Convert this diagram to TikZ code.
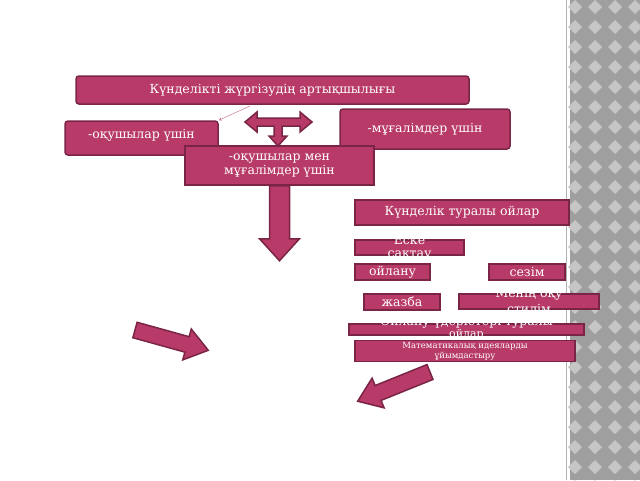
\documentclass[tikz,border=0pt]{standalone}
\usepackage{fontspec}
\setmainfont{DejaVu Serif}
\definecolor{berry}{HTML}{B83A68}
\definecolor{berryline}{HTML}{7A2545}
\tikzset{
  card/.style={draw=berryline, line width=1.5pt, fill=berry, text=white, inner sep=0pt, font=\fontsize{12.5}{14}\selectfont},
  cardtext/.style={text=white, inner sep=0pt, font=\fontsize{12.5}{14}\selectfont},
  blockarrow/.style={draw=berryline, line width=1.5pt, fill=berry, line join=miter}
}
\newcommand{\blockarrow}[3]{% length, shaft half width, head half width
  \draw[blockarrow] (0,-#2) -- ({#1-22},-#2) -- ({#1-22},-#3) -- (#1,0) -- ({#1-22},#3) -- ({#1-22},#2) -- (0,#2) -- cycle;}
\begin{document}
\begin{tikzpicture}[x=1pt,y=-1pt]
    \useasboundingbox (0,0) rectangle (640,480);
    \fill[white] (0,0) rectangle (640,480);
    % right border strip
    \fill[gray!75] (570,0) rectangle (640,480);
    \foreach \r in {0,...,24}{
      \foreach \c in {0,...,3}{
        \fill[gray!45] ({575+\c*20},{\r*20}) -- ++(7,7) -- ++(-7,7) -- ++(-7,-7) -- cycle;
      }
    }
    \draw[gray!60] (566,0) -- (566,480);
    % boxes
    \node[card, rounded corners=3pt, minimum width=393pt, minimum height=28pt] (title) at (272.5,90) {Күнделікті жүргізудің артықшылығы};
    \node[card, rounded corners=3pt, minimum width=170pt, minimum height=40pt] (teach) at (425,129) {-мұғалімдер үшін};
    \node[card, rounded corners=3pt, minimum width=153pt, minimum height=34pt, text depth=8pt] (pupil) at (141.5,138) {-оқушылар үшін};
    \node[card, minimum width=189pt, minimum height=39pt, align=center] (both) at (279.5,165.5) {-оқушылар мен\\мұғалімдер үшін};
    \node[card, minimum width=214pt, minimum height=25pt] (idea) at (462,212.5) {Күнделік туралы ойлар};
    \node[card, minimum width=109pt, minimum height=15pt] (memo) at (409.5,247.5) {};
    \node[cardtext] (memo1) at (409.5,240) {Еске};
    \node[cardtext] (memo2) at (409.5,256) {сақтау};
    \node[card, minimum width=75pt, minimum height=16pt] (think) at (392.5,272) {ойлану};
    \node[card, minimum width=76pt, minimum height=16pt] (feel) at (527,272) {сезім};
    \node[card, minimum width=76pt, minimum height=16pt] (write) at (402,302) {жазба};
    \node[card, minimum width=140pt, minimum height=15pt] (style) at (529,301.5) {};
    \node[cardtext] (style1) at (529,294) {Менің оқу};
    \node[cardtext] (style2) at (529,309) {стилім};
    \node[card, minimum width=235pt, minimum height=11pt] (proc) at (466.5,329.5) {};
    \node[cardtext] (proc1) at (466.5,322) {Ойлану үдерістері туралы};
    \node[cardtext, font=\fontsize{11}{12}\selectfont] (proc2) at (466.5,335) {ойлар};
    \node[card, minimum width=220pt, minimum height=21pt, align=center, font=\fontsize{8.5}{10}\selectfont] (math) at (465,351) {Математикалық идеяларды\\ұйымдастыру};
    % arrows
    \draw[berry!80, -stealth] (250,106) -- (pupil.north east);
    \draw[blockarrow] (245,122) -- (257,112) -- (257,118) -- (300,118) -- (300,112) -- (312,122)
      -- (300,132) -- (300,126) -- (282,126) -- (282,136) -- (287,136) -- (278,146) -- (269,136) -- (274,136)
      -- (274,126) -- (257,126) -- (257,132) -- cycle;
    \begin{scope}[shift={(both.south)}, rotate=-90]
      \blockarrow{75}{10}{20}
    \end{scope}
    \begin{scope}[shift={(135,330)}, rotate=-15.5]
      \blockarrow{76}{8}{16}
    \end{scope}
    \begin{scope}[shift={(430,372)}, rotate=-158]
      \blockarrow{78}{8}{16}
    \end{scope}
\end{tikzpicture}
\end{document}
